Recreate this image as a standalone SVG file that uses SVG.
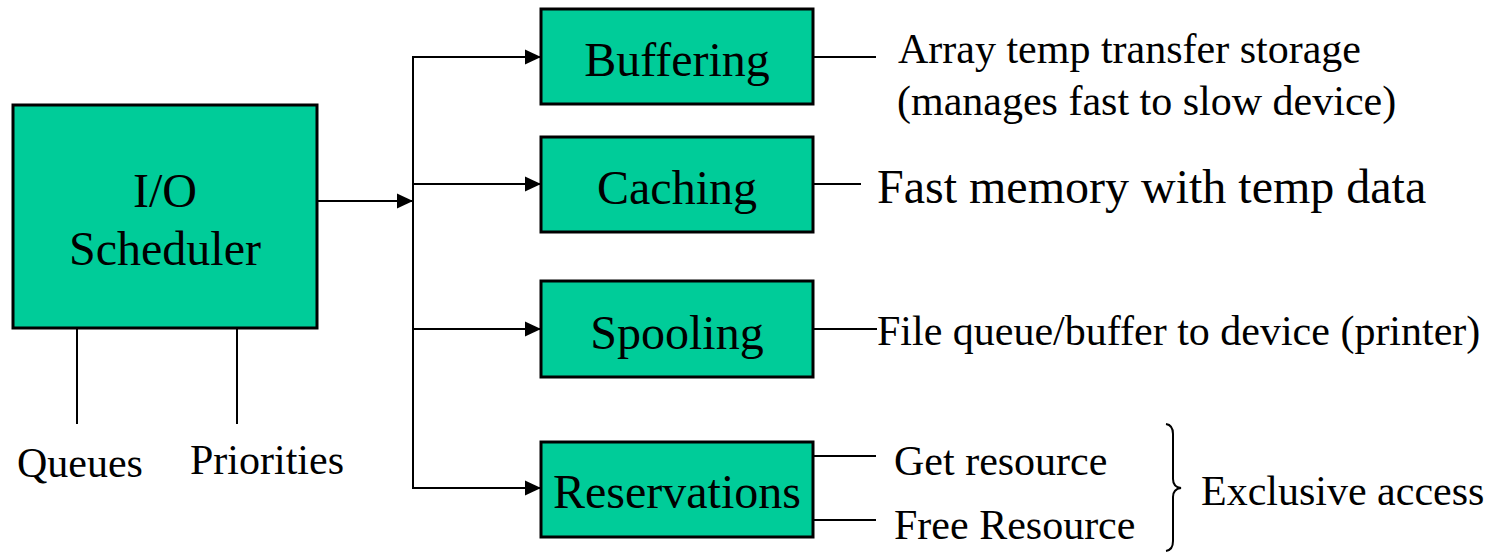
<svg xmlns="http://www.w3.org/2000/svg" width="1501" height="552" viewBox="0 0 1501 552">
  <style>
    .box { fill: #00CC99; stroke: #000; stroke-width: 3; }
    .ln { stroke: #000; stroke-width: 2; fill: none; }
    .t48 { font-family: "Liberation Serif", "Times New Roman", serif; font-size: 48px; fill: #000; }
    .t42 { font-family: "Liberation Serif", "Times New Roman", serif; font-size: 42px; fill: #000; }
    .mid { text-anchor: middle; }
  </style>
  <defs>
    <marker id="arr" markerUnits="userSpaceOnUse" markerWidth="16" markerHeight="16" viewBox="0 0 15 14" refX="15" refY="7" orient="auto">
      <path d="M0,0 L15,7 L0,14 Z" fill="#000"/>
    </marker>
  </defs>

  <g id="connectors">
    <line class="ln" x1="317" y1="201" x2="413" y2="201" marker-end="url(#arr)"/>
    <line class="ln" x1="413" y1="56" x2="413" y2="489"/>
    <line class="ln" x1="412" y1="57" x2="541" y2="57" marker-end="url(#arr)"/>
    <line class="ln" x1="412" y1="184" x2="541" y2="184" marker-end="url(#arr)"/>
    <line class="ln" x1="412" y1="329" x2="541" y2="329" marker-end="url(#arr)"/>
    <line class="ln" x1="412" y1="488" x2="541" y2="488" marker-end="url(#arr)"/>
    <line class="ln" x1="77" y1="328" x2="77" y2="424"/>
    <line class="ln" x1="237" y1="328" x2="237" y2="424"/>
    <line class="ln" x1="813" y1="57" x2="876" y2="57"/>
    <line class="ln" x1="813" y1="184" x2="861" y2="184"/>
    <line class="ln" x1="813" y1="329" x2="877" y2="329"/>
    <line class="ln" x1="813" y1="456" x2="876" y2="456"/>
    <line class="ln" x1="813" y1="520" x2="876" y2="520"/>
    <path class="ln" d="M1166,424 Q1173,425 1173,434 L1173,479 Q1173,487 1181,488 Q1173,489 1173,497 L1173,541 Q1173,550 1166,551"/>
  </g>

  <g id="scheduler">
    <rect class="box" x="13" y="105" width="304" height="223"/>
    <text class="t48 mid" x="165" y="207">I/O</text>
    <text class="t48 mid" x="165" y="265">Scheduler</text>
  </g>
  <g id="queues"><text class="t42" x="17" y="477">Queues</text></g>
  <g id="priorities"><text class="t42" x="190" y="474">Priorities</text></g>

  <g id="buffering">
    <rect class="box" x="541" y="9" width="272" height="95"/>
    <text class="t48 mid" x="677" y="76">Buffering</text>
  </g>
  <g id="caching">
    <rect class="box" x="541" y="137" width="272" height="95"/>
    <text class="t48 mid" x="677" y="204">Caching</text>
  </g>
  <g id="spooling">
    <rect class="box" x="541" y="281" width="272" height="96"/>
    <text class="t48 mid" x="677" y="349">Spooling</text>
  </g>
  <g id="reservations">
    <rect class="box" x="541" y="442" width="272" height="95"/>
    <text class="t48 mid" x="677" y="508">Reservations</text>
  </g>

  <g id="buffering-note">
    <text class="t42" x="898" y="63">Array temp transfer storage</text>
    <text class="t42" x="897" y="115">(manages fast to slow device)</text>
  </g>
  <g id="caching-note"><text class="t48" x="877" y="203">Fast memory with temp data</text></g>
  <g id="spooling-note"><text class="t42" x="877" y="345">File queue/buffer to device (printer)</text></g>
  <g id="get-resource"><text class="t42" x="894" y="475">Get resource</text></g>
  <g id="free-resource"><text class="t42" x="894" y="539">Free Resource</text></g>
  <g id="exclusive-access"><text class="t42" x="1201" y="505">Exclusive access</text></g>
</svg>
